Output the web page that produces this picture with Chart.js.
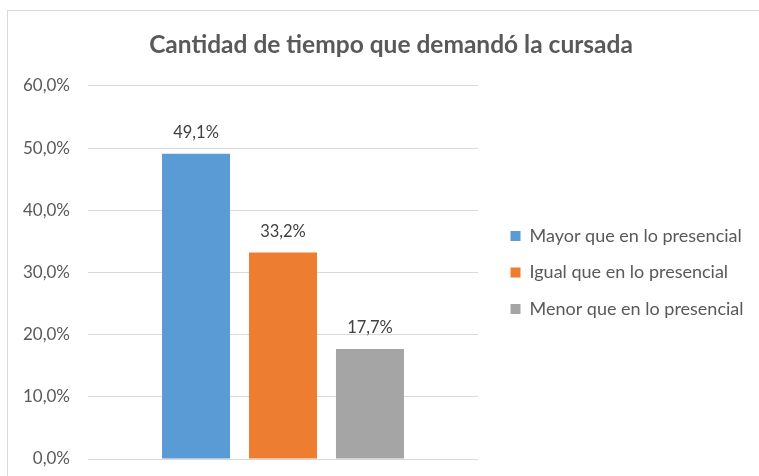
<!DOCTYPE html>
<html>
<head>
<meta charset="utf-8">
<script src="https://cdn.jsdelivr.net/npm/chart.js@4.4.1/dist/chart.umd.min.js"></script>
<style>
  body { margin: 0; background: #fff; overflow: hidden; }
  #wrap { position: absolute; left: 7px; top: 10px; width: 766px; height: 478px; border: 1px solid #d9d9d9; }
  canvas { display: block; }
</style>
</head>
<body>
<div id="wrap"><canvas id="chart" width="766" height="478"></canvas></div>
<script>
// ── Data ───────────────────────────────────────────────────
const categories   = [""];
const seriesNames  = ["Mayor que en lo presencial", "Igual que en lo presencial", "Menor que en lo presencial"];
const seriesValues = [49.1, 33.2, 17.7];
const yTicks       = [0, 10, 20, 30, 40, 50, 60];

const COLORS = ["#5b9bd5", "#ed7d31", "#a5a5a5"];
const FONT = "Lato, 'Liberation Sans', sans-serif";

function pct(v) {
  return v.toFixed(1).replace(".", ",") + "%";
}

// ── Layout tweaks (legend position, fixed widths) ───────────
const PLOT_RIGHT = 470;
const layoutTweaks = {
  id: "layoutTweaks",
  beforeLayout(chart) {
    const lg = chart.legend;
    if (lg && !lg._patched) {
      const fit = lg.fit;
      lg.fit = function () {
        fit.call(this);
        this.width = chart.width - PLOT_RIGHT;
      };
      lg._patched = true;
    }
  },
  afterLayout(chart) {
    const lg = chart.legend;
    lg.left = 484;
    lg.right = chart.width;
    lg.top = 197.5;
    lg.bottom = 340;
  }
};

// ── Value labels above bars ────────────────────────────────
const barLabels = {
  id: "barLabels",
  afterDatasetsDraw(chart) {
    const ctx = chart.ctx;
    ctx.save();
    ctx.font = "16.5px " + FONT;
    ctx.fillStyle = "#404040";
    ctx.textAlign = "center";
    ctx.textBaseline = "middle";
    chart.data.datasets.forEach((ds, i) => {
      chart.getDatasetMeta(i).data.forEach((bar, j) => {
        ctx.fillText(pct(ds.data[j]), bar.x, bar.y - 21);
      });
    });
    ctx.restore();
  }
};

new Chart(document.getElementById("chart"), {
  type: "bar",
  data: {
    labels: categories,
    datasets: seriesNames.map((name, i) => ({
      label: name,
      data: [seriesValues[i]],
      backgroundColor: COLORS[i],
      categoryPercentage: 0.669,
      barPercentage: 0.782,
    })),
  },
  options: {
    responsive: false,
    animation: false,
    layout: { padding: { left: 0, right: 0, top: 0, bottom: 30 } },
    plugins: {
      title: {
        display: true,
        text: "Cantidad de tiempo que demandó la cursada",
        color: "#595959",
        font: { family: FONT, size: 24.5, weight: "bold", lineHeight: 1.2 },
        padding: { top: 19.5, bottom: 26 },
      },
      legend: {
        position: "right",
        align: "start",
        labels: {
          color: "#595959",
          font: { family: FONT, size: 18 },
          boxWidth: 10,
          boxHeight: 10,
          padding: 18.5,
        },
      },
      tooltip: { enabled: false },
    },
    scales: {
      x: { display: false },
      y: {
        min: yTicks[0],
        max: yTicks[yTicks.length - 1],
        afterFit(scale) { scale.width = 80; },
        afterBuildTicks(scale) { scale.ticks = yTicks.map(v => ({ value: v })); },
        border: { display: false },
        grid: { color: "#d9d9d9", lineWidth: 1, drawTicks: false },
        ticks: {
          padding: 18,
          color: "#595959",
          font: { family: FONT, size: 17 },
          callback: (v) => pct(v),
        },
      },
    },
  },
  plugins: [layoutTweaks, barLabels],
});
</script>
</body>
</html>
